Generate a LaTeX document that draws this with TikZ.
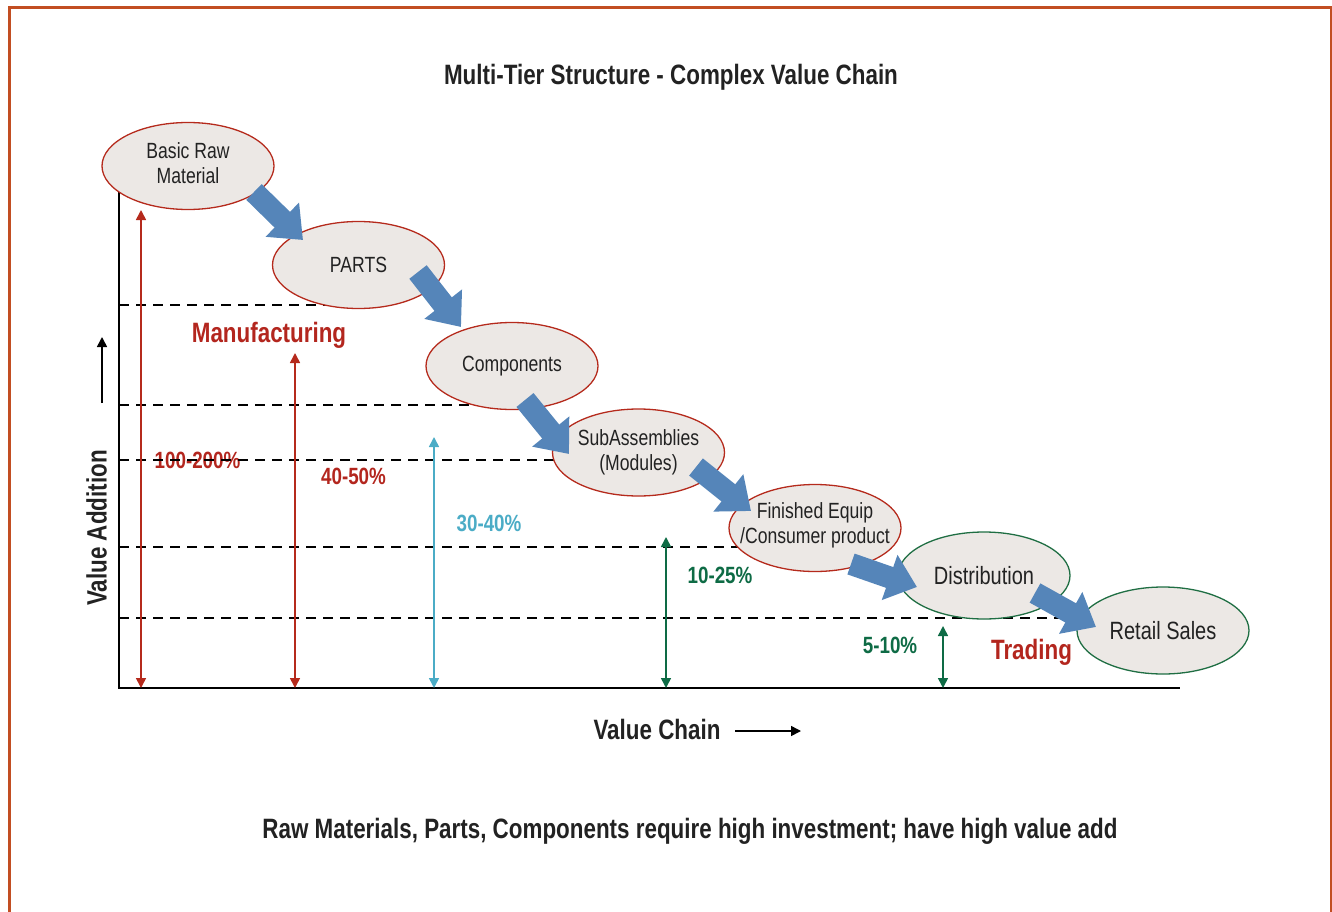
\documentclass[tikz,border=0pt]{standalone}
\usepackage{fontspec}
\setmainfont{Liberation Sans}[FakeStretch=0.8]
\usetikzlibrary{shapes.geometric,arrows.meta,calc}
\definecolor{framec}{HTML}{C24E22}
\definecolor{ellred}{HTML}{B52A1C}
\definecolor{ellgreen}{HTML}{1F6E43}
\definecolor{ellfill}{HTML}{ECE8E5}
\definecolor{txt}{HTML}{222222}
\definecolor{redtxt}{HTML}{B3261E}
\definecolor{lblue}{HTML}{4BACC6}
\definecolor{dgreen}{HTML}{0E6B45}
\definecolor{flowblue}{HTML}{5585B9}
\begin{document}
\begin{tikzpicture}[x=1pt,y=-1pt,
  stage/.style={ellipse, draw=ellred, line width=1.3pt, fill=ellfill,
    minimum width=172pt, minimum height=87pt, inner sep=0pt,
    font=\fontsize{22}{25}\selectfont, text=txt, align=center},
  tradestage/.style={stage, draw=ellgreen, font=\fontsize{25}{28}\selectfont},
  flow/.style={draw=flowblue, line width=22pt, -{Triangle[length=29pt,width=46pt]}},
  tierline/.style={draw=black, line width=2pt, dash pattern=on 10pt off 7pt},
  axisline/.style={draw=black, line width=2pt},
  span/.style={line width=1.6pt, {Triangle[length=10pt,width=10pt]}-{Triangle[length=10pt,width=10pt]}},
  smallarrow/.style={draw=black, line width=1.6pt, -{Triangle[length=10pt,width=10pt]}},
  heading/.style={font=\bfseries\fontsize{28}{33}\selectfont, text=txt, anchor=base},
  sector/.style={font=\bfseries\fontsize{28}{33}\selectfont, text=redtxt, anchor=base},
  pct/.style={font=\bfseries\fontsize{23.5}{28}\selectfont, anchor=base}
]
\useasboundingbox (0,0) rectangle (1332,912);
% frame
\draw[framec, line width=2.5pt] (9.5,915) -- (9.5,7.5) -- (1331,7.5) -- (1331,915);

% titles
\node[heading] (title) at (671,85) {Multi-Tier Structure - Complex Value Chain};
\node[heading] (vchain) at (657,739) {Value Chain};
\node[heading] (note) at (690,838) {Raw Materials, Parts, Components require high investment; have high value add};
\node[font=\bfseries\fontsize{28}{33}\selectfont, text=txt, rotate=90] (vadd) at (96.5,528) {Value Addition};

% sector and percentage labels
\node[sector] (manu) at (269,342) {Manufacturing};
\node[sector] (trade) at (1031.5,659) {Trading};
\node[pct, text=redtxt] (p1) at (197.5,468) {100-200\%};
\node[pct, text=redtxt] (p2) at (353.5,484) {40-50\%};
\node[pct, text=lblue] (p3) at (489,531) {30-40\%};
\node[pct, text=dgreen] (p4) at (720,583) {10-25\%};
\node[pct, text=dgreen] (p5) at (890,653) {5-10\%};

% tier dashed lines
\draw[tierline] (119,305) -- (350,305);
\draw[tierline] (119,405) -- (490,405);
\draw[tierline] (119,460) -- (570,460);
\draw[tierline] (119,547) -- (760,547);
\draw[tierline] (119,618) -- (1100,618);

% axes
\draw[axisline] (119,185) -- (119,688) -- (1180,688);

% value addition spans
\coordinate (s1t) at (141,210); \coordinate (s1b) at (141,688);
\coordinate (s2t) at (295,353); \coordinate (s2b) at (295,688);
\coordinate (s3t) at (434,437); \coordinate (s3b) at (434,688);
\coordinate (s4t) at (666,537); \coordinate (s4b) at (666,688);
\coordinate (s5t) at (943,626); \coordinate (s5b) at (943,688);
\draw[span, ellred] (s1t) -- (s1b);
\draw[span, ellred] (s2t) -- (s2b);
\draw[span, lblue] (s3t) -- (s3b);
\draw[span, dgreen] (s4t) -- (s4b);
\draw[span, dgreen] (s5t) -- (s5b);

% axis direction arrows
\coordinate (va1) at (102,403); \coordinate (va2) at (102,337);
\draw[smallarrow] (va1) -- (va2);
\coordinate (vc1) at (735,731); \coordinate (vc2) at (801,731);
\draw[smallarrow] (vc1) -- (vc2);

% stages
\node[stage, text depth=6pt] (raw) at (188,166) {Basic Raw\\Material};
\node[stage] (parts) at (358.5,265) {PARTS};
\node[stage] (comp) at (512,366) {Components};
\node[stage] (sub) at (638.5,452.5) {SubAssemblies\\(Modules)};
\node[stage, inner xsep=-20pt, inner ysep=-6pt, text depth=10.5pt] (fin) at (815,528) {Finished Equip\\/Consumer product};
\node[tradestage] (dist) at (984,575.5) {Distribution};
\node[tradestage] (ret) at (1163,630.5) {Retail Sales};

% flow arrows
\draw[flow] ($(raw)+(66,26)$) -- ($(parts)+(-55.5,-25)$);
\draw[flow] ($(parts)+(59.5,7)$) -- ($(comp)+(-51,-39)$);
\draw[flow] ($(comp)+(13,34)$) -- ($(sub)+(-69.5,1.5)$);
\draw[flow] ($(sub)+(57.5,14.5)$) -- ($(fin)+(-64,-17)$);
\draw[flow] ($(fin)+(36,36)$) -- ($(dist)+(-67,11.5)$);
\draw[flow] ($(dist)+(51,17.5)$) -- ($(ret)+(-67,-3.5)$);
\end{tikzpicture}
\end{document}
